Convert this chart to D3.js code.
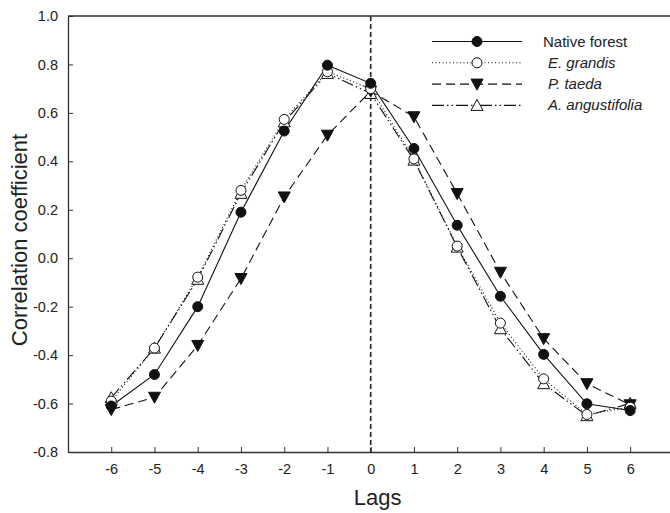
<!DOCTYPE html>
<html>
<head>
<meta charset="utf-8">
<script src="https://cdn.jsdelivr.net/npm/d3@7"></script>
<style>
  body { margin: 0; background: #fff; }
  svg { display: block; font-family: "Liberation Sans", Arial, sans-serif; }
</style>
</head>
<body>
<div id="chart"></div>
<script>
// lags on the x axis
var lags = [-6, -5, -4, -3, -2, -1, 0, 1, 2, 3, 4, 5, 6];

// correlation coefficient per lag
var nativeForest = [-0.61, -0.48, -0.20, 0.19, 0.525, 0.797, 0.722, 0.453, 0.136, -0.157, -0.397, -0.601, -0.629];
var eGrandis     = [-0.59, -0.371, -0.078, 0.28, 0.573, 0.77, 0.70, 0.41, 0.05, -0.268, -0.498, -0.645, -0.615];
var pTaeda       = [-0.625, -0.574, -0.36, -0.084, 0.253, 0.508, 0.69, 0.584, 0.267, -0.058, -0.332, -0.518, -0.605];
var aAngustifolia= [-0.576, -0.371, -0.087, 0.268, 0.563, 0.763, 0.68, 0.405, 0.046, -0.291, -0.518, -0.65, -0.599];

var seriesNames = ['Native forest', 'E. grandis', 'P. taeda', 'A. angustifolia'];
var yTicks = [-0.8, -0.6, -0.4, -0.2, 0.0, 0.2, 0.4, 0.6, 0.8, 1.0];

var w = 670, h = 513;
var margin = { top: 16, left: 68 };
var plotBottom = 452;

var x = d3.scaleLinear().domain([-7, 7]).range([margin.left, 673.4]);
var y = d3.scaleLinear().domain([-0.8, 1.0]).range([plotBottom, margin.top]);

var svg = d3.select('#chart').append('svg')
    .attr('width', w)
    .attr('height', h);

// styles for each series: line dash and marker
var styles = [
  { values: nativeForest,  dash: null,            marker: 'circle',  fill: '#111' },
  { values: eGrandis,      dash: '1,2.5',         marker: 'circle',  fill: '#fff' },
  { values: pTaeda,        dash: '9,5',           marker: 'tridown', fill: '#111' },
  { values: aAngustifolia, dash: '12,3,1.5,3,1.5,3', marker: 'triup', fill: '#fff' }
];

function drawMarker(g, type, fill) {
  if (type === 'circle') {
    g.append('circle').attr('r', 5)
      .attr('fill', fill).attr('stroke', '#111').attr('stroke-width', 1);
  } else if (type === 'tridown') {
    g.append('path').attr('d', 'M-6,-5L6,-5L0,6Z')
      .attr('fill', fill).attr('stroke', '#111').attr('stroke-width', 1);
  } else {
    g.append('path').attr('d', 'M-6,5L6,5L0,-6Z')
      .attr('fill', fill).attr('stroke', '#111').attr('stroke-width', 1);
  }
}

// dashed vertical line at lag 0
svg.append('line')
    .attr('x1', x(0)).attr('x2', x(0))
    .attr('y1', margin.top).attr('y2', plotBottom)
    .attr('stroke', '#222')
    .attr('stroke-width', 1.6)
    .attr('stroke-dasharray', '5,3');

var line = d3.line()
    .x(function (d, i) { return x(lags[i]); })
    .y(function (d) { return y(d); });

// lines first, then markers on top
styles.forEach(function (s) {
  svg.append('path')
      .datum(s.values)
      .attr('d', line)
      .attr('fill', 'none')
      .attr('stroke', '#111')
      .attr('stroke-width', 1.1)
      .attr('stroke-dasharray', s.dash);
});

styles.slice().reverse().forEach(function (s) {
  s.values.forEach(function (v, i) {
    var g = svg.append('g')
        .attr('transform', 'translate(' + x(lags[i]) + ',' + y(v) + ')');
    drawMarker(g, s.marker, s.fill);
  });
});

// axes: ticks pointing inward
var yAxis = d3.axisLeft(y).tickValues(yTicks).tickFormat(d3.format('.1f'))
    .tickSizeInner(-5).tickSizeOuter(0).tickPadding(10);
svg.append('g')
    .attr('transform', 'translate(' + margin.left + ',0)')
    .call(yAxis)
    .call(function (g) {
      g.selectAll('text').style('font-size', '14.5px').attr('fill', '#222')
        .text(function (d) { return d3.format('.1f')(d).replace('−', '-'); });
      g.select('.domain').attr('stroke', '#333').attr('stroke-width', 1.3);
      g.selectAll('.tick line').attr('stroke', '#333');
    });

var xAxis = d3.axisBottom(x).tickValues(lags).tickFormat(d3.format('d'))
    .tickSizeInner(-5).tickSizeOuter(0).tickPadding(12);
svg.append('g')
    .attr('transform', 'translate(0,' + plotBottom + ')')
    .call(xAxis)
    .call(function (g) {
      g.selectAll('text').style('font-size', '14.5px').attr('fill', '#222')
        .text(function (d) { return String(d); });
      g.select('.domain').attr('stroke', '#333').attr('stroke-width', 1.3);
      g.selectAll('.tick line').attr('stroke', '#333');
    });

// top frame line
svg.append('line')
    .attr('x1', margin.left).attr('x2', w)
    .attr('y1', margin.top).attr('y2', margin.top)
    .attr('stroke', '#333').attr('stroke-width', 1.3);

// axis titles
svg.append('text')
    .attr('x', x(0) + 7)
    .attr('y', 505)
    .attr('text-anchor', 'middle')
    .style('font-size', '22px')
    .attr('fill', '#222')
    .text('Lags');

svg.append('text')
    .attr('transform', 'translate(27,' + ((margin.top + plotBottom) / 2 + 6) + ') rotate(-90)')
    .attr('text-anchor', 'middle')
    .style('font-size', '22px')
    .attr('fill', '#222')
    .text('Correlation coefficient');

// legend
var legend = svg.append('g').attr('class', 'legend');
styles.forEach(function (s, i) {
  var ly = 41.5 + i * 21.3;
  legend.append('line')
      .attr('x1', 432).attr('x2', 522)
      .attr('y1', ly).attr('y2', ly)
      .attr('stroke', '#111').attr('stroke-width', 1.1)
      .attr('stroke-dasharray', s.dash);
  var g = legend.append('g').attr('transform', 'translate(477,' + ly + ')');
  drawMarker(g, s.marker, s.fill);
  legend.append('text')
      .attr('x', i === 0 ? 543 : 548)
      .attr('y', ly + 5)
      .style('font-size', '15px')
      .style('font-style', i === 0 ? 'normal' : 'italic')
      .attr('fill', '#222')
      .text(seriesNames[i]);
});
</script>
</body>
</html>
